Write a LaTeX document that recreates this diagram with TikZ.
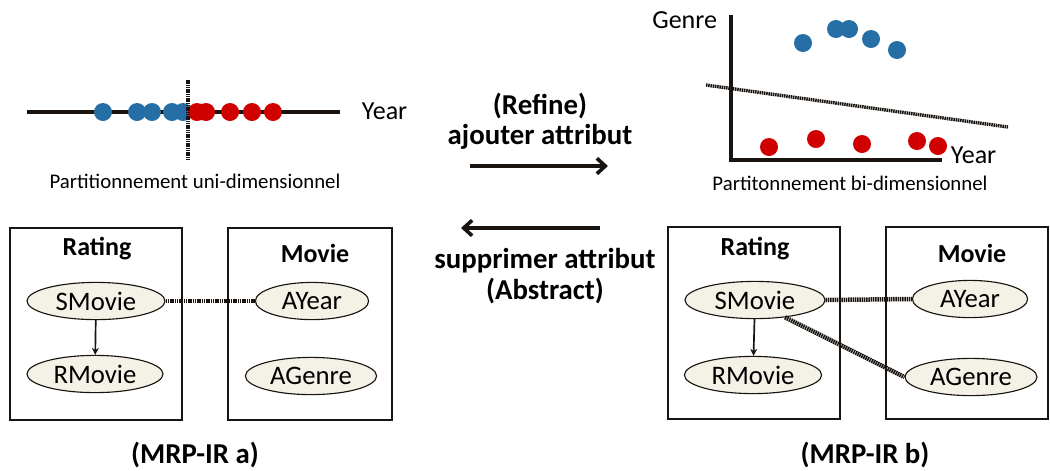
\documentclass[tikz,border=0pt]{standalone}
\usepackage{fontspec}
\setmainfont{Carlito}
\usetikzlibrary{shapes.geometric, arrows.meta, positioning}
\definecolor{ptblue}{RGB}{38,110,166}
\definecolor{ptred}{RGB}{208,0,0}
\definecolor{attrfill}{RGB}{244,241,231}
\definecolor{inkdark}{RGB}{25,20,15}
\tikzstyle{arrow} = [line width=2.6pt,-{Straight Barb[length=6pt,width=11pt]},draw=inkdark]
\tikzstyle{relbox} = [rectangle, draw=inkdark, line width=1.5pt, minimum height=4.78cm]
\tikzstyle{attr} = [ellipse, draw=inkdark, fill=attrfill, line width=0.8pt, minimum height=0.93cm, inner sep=0pt, font=\fontsize{19}{19}\selectfont]
\tikzstyle{reltitle} = [font=\fontsize{18.5}{18.5}\selectfont\bfseries]
\tikzstyle{oplabel} = [font=\fontsize{20.5}{20.5}\selectfont\bfseries, align=center]
\tikzstyle{caption} = [font=\fontsize{14.8}{14.8}\selectfont]
\tikzstyle{axislabel} = [font=\fontsize{18.5}{18.5}\selectfont]
\tikzstyle{linkdot} = [line width=3.2pt, dash pattern=on 1.1pt off 0.5pt, draw=inkdark]
\tikzstyle{sepline} = [line width=2.4pt, dash pattern=on 1.1pt off 0.5pt, draw=inkdark]

\begin{document}
\begin{tikzpicture}[x=0.025cm, y=-0.025cm]
			\useasboundingbox (0,0) rectangle (1050,470);

			% Partitionnement uni-dimensionnel
			\draw [line width=2.6pt, draw=inkdark] (27,112) -- (340,112);
			\node (Year_a) [axislabel, anchor=west] at (357,111) {Year};
			\fill [ptblue] (103,112) circle (9) (137,112) circle (9) (152,112) circle (9) (172,112) circle (9) (183,112) circle (9);
			\fill [ptred] (197,112) circle (9) (206,112) circle (9) (230,112) circle (9) (252,112) circle (9) (273,112) circle (9);
			\draw [sepline] (188,80) -- (188,160);
			\node (Cap_uni) [caption] at (195,181) {Partitionnement uni-dimensionnel};

			% Partitionnement bi-dimensionnel
			\draw [line width=2.6pt, draw=inkdark] (731,15) |- (942,160);
			\node (Genre) [axislabel, anchor=east] at (722,20) {Genre};
			\node (Year_b) [axislabel, anchor=west] at (946,155) {Year};
			\fill [ptblue] (803,43) circle (9) (836,29) circle (9) (849,29) circle (9) (871,39) circle (9) (897,50) circle (9);
			\fill [ptred] (769,147) circle (9) (816,139) circle (9) (862,144) circle (9) (917,141) circle (9) (938,146) circle (9);
			\draw [sepline] (706,85) -- (1008,127);
			\node (Cap_bi) [caption] at (850,183) {Partitonnement bi-dimensionnel};

			% Operations
			\node (Refine) [oplabel] at (540,121) {(Refine)\\[1pt]ajouter attribut};
			\node (Abstract) [oplabel] at (545,276) {supprimer attribut\\[1pt](Abstract)};
			\coordinate (R_start) at (470,166);
			\coordinate (R_end) at (608,166);
			\coordinate (A_start) at (600,228);
			\coordinate (A_end) at (461,228);
			\draw [arrow] (R_start) -- (R_end);
			\draw [arrow] (A_start) -- (A_end);

			% MRP-IR a
			\node (Rating_a) [relbox, minimum width=4.3cm] at (96,324) {};
			\node (Movie_a) [relbox, minimum width=4.1cm] at (310,324) {};
			\node (Rating_a_t) [reltitle] at (97,249) {Rating};
			\node (Movie_a_t) [reltitle] at (315,253) {Movie};
			\node (SMovie_a) [attr, minimum width=3.45cm] at (96,301) {SMovie};
			\node (RMovie_a) [attr, minimum width=3.4cm] at (95,374) {RMovie};
			\node (AYear_a) [attr, minimum width=2.83cm] at (312,301) {AYear};
			\node (AGenre_a) [attr, minimum width=3.28cm] at (311,376) {AGenre};
			\node (MRP_a) [oplabel] at (195,455) {(MRP-IR a)};

			% MRP-IR b
			\node (Rating_b) [relbox, minimum width=4.3cm] at (754,323) {};
			\node (Movie_b) [relbox, minimum width=4.03cm] at (967,323) {};
			\node (Rating_b_t) [reltitle] at (755,249) {Rating};
			\node (Movie_b_t) [reltitle] at (972,253) {Movie};
			\node (SMovie_b) [attr, minimum width=3.5cm] at (755,300) {SMovie};
			\node (RMovie_b) [attr, minimum width=3.43cm] at (753,375) {RMovie};
			\node (AYear_b) [attr, minimum width=2.88cm] at (970,299) {AYear};
			\node (AGenre_b) [attr, minimum width=3.3cm] at (971,377) {AGenre};
			\node (MRP_b) [oplabel] at (865,455) {(MRP-IR b)};

			% Connections
			\draw [line width=1.2pt, draw=inkdark, -{Stealth[length=5pt,width=5pt]}] (SMovie_a) -- (RMovie_a);
			\draw [line width=1.2pt, draw=inkdark, -{Stealth[length=5pt,width=5pt]}] (SMovie_b) -- (RMovie_b);
			\draw [linkdot] (SMovie_a.east) -- (AYear_a.west);
			\draw [linkdot] (SMovie_b.east) -- (AYear_b.west);
			\draw [linkdot] (SMovie_b.-30) -- (AGenre_b.west);

		\end{tikzpicture}
\end{document}
